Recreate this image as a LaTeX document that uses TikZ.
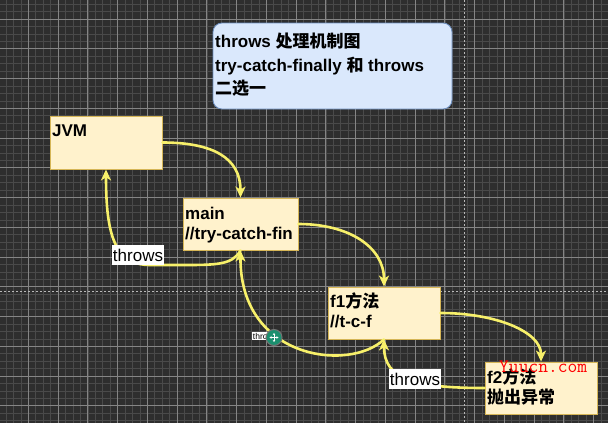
\documentclass[tikz,border=0pt]{standalone}
\usepackage{fontspec}
\setmainfont{Liberation Sans}
\newfontfamily\cjk{Noto Sans CJK SC}
\usetikzlibrary{arrows.meta}
\definecolor{bgc}{HTML}{2E2E2E}
\definecolor{minorc}{HTML}{4A4A4A}
\definecolor{majorc}{HTML}{858585}
\definecolor{dashc}{HTML}{B8B8B8}
\definecolor{boxfill}{HTML}{FFF2CC}
\definecolor{boxline}{HTML}{D6B656}
\definecolor{titlefill}{HTML}{DAE8FC}
\definecolor{titleline}{HTML}{6C8EBF}
\definecolor{arrowc}{HTML}{F7F06A}
\definecolor{iconc}{HTML}{1B8F6E}
\begin{document}
\begin{tikzpicture}[x=1pt,y=-1pt,
  box/.style={draw=boxline, fill=boxfill, line width=0.8pt, inner sep=0pt},
  txt/.style={anchor=base west, inner sep=0pt, font=\fontsize{17}{20}\selectfont\bfseries},
  arr/.style={draw=arrowc, line width=2.6pt, line cap=round,
    -{Stealth[length=11pt,width=10pt,inset=3pt]}},
  lbl/.style={fill=white, inner xsep=0.5pt, inner ysep=0pt, minimum height=20pt,
    font=\fontsize{17}{20}\selectfont}]
\useasboundingbox (0,0) rectangle (608,423);
% background and grid
\fill[bgc] (0,0) rectangle (608,423);
\begin{scope}
\clip (0,0) rectangle (608,423);
\foreach \i in {-4,...,80} {
  \draw[minorc, line width=0.6pt] ({28.3+\i*7.4375},0) -- ++(0,423);
  \draw[minorc, line width=0.6pt] (0,{19+\i*7.4375}) -- ++(608,0);
}
\foreach \i in {-1,...,20} {
  \draw[majorc, line width=0.8pt] ({28.3+\i*29.75},0) -- ++(0,423);
  \draw[majorc, line width=0.8pt] (0,{19+\i*29.75}) -- ++(608,0);
}
\draw[dashc, line width=0.8pt, dash pattern=on 2pt off 2pt] (464.5,0) -- (464.5,423);
\draw[dashc, line width=0.8pt, dash pattern=on 2pt off 2pt] (0,291.5) -- (608,291.5);
\end{scope}

% title
\node[draw=titleline, fill=titlefill, line width=0.8pt, rounded corners=9pt,
  minimum width=239pt, minimum height=86pt, inner sep=0pt] (title) at (332.5,66) {};
\node[txt] (tl1) at (215,47.7) {throws {\cjk 处理机制图}};
\node[txt] (tl2) at (215,71) {try-catch-finally {\cjk 和} throws};
\node[txt] (tl3) at (215,94) {\cjk 二选一};

% boxes
\node[box, minimum width=112pt, minimum height=53pt] (jvm) at (106,142.5) {};
\node[box, minimum width=115pt, minimum height=52pt] (main) at (240.5,224) {};
\node[box, minimum width=112pt, minimum height=52pt] (f1) at (384,313) {};
\node[box, minimum width=112pt, minimum height=52pt] (f2) at (541,388) {};

% connectors
\draw[arr] (jvm.east) .. controls +(50,0) and +(0,-40) .. (main.north);
\draw[arr] (main.east) .. controls +(50,0) and +(0,-40) .. (f1.north);
\draw[arr] (f1.east) .. controls +(55,0) and +(0,-30) .. (f2.north);
\coordinate (w1) at (180,265);
\coordinate (w2) at (150,265);
\draw[arr] (main.south) .. controls +(-8,15) and +(35,0) .. (w1) -- (w2)
  .. controls +(-35,0) and +(0,66) .. (jvm.south);
\draw[arr] (f1.south) .. controls (350,372) and (240,360) .. (main.south);
\draw[arr] (f2.west) .. controls +(-70,0) and +(0,40) .. (f1.south);

% labels
\node[lbl] (th1) at (138,255) {throws};
\node[lbl] (th3) at (415,379) {throws};
\node[fill=white, inner xsep=0.5pt, inner ysep=0.8pt, font=\fontsize{8.5}{9}\selectfont] (th2) at (265.5,336) {throws};
\node[circle, fill=iconc, draw=black!55, line width=1pt, minimum size=16pt, inner sep=0pt] (icon) at (274,337.5) {};
\draw[white, line width=0.9pt, -{Stealth[length=2pt,width=2.5pt]}] (icon.center) -- ++(4.5,0);
\draw[white, line width=0.9pt, -{Stealth[length=2pt,width=2.5pt]}] (icon.center) -- ++(-4.5,0);
\draw[white, line width=0.9pt, -{Stealth[length=2pt,width=2.5pt]}] (icon.center) -- ++(0,4.5);
\draw[white, line width=0.9pt, -{Stealth[length=2pt,width=2.5pt]}] (icon.center) -- ++(0,-4.5);

% box texts
\node[txt] (jvmt) at (52,136) {JVM};
\node[txt] (mt1) at (185,219) {main};
\node[txt] (mt2) at (185,239) {//try-catch-fin};
\node[txt] (f1t1) at (330,307) {f1{\cjk 方法}};
\node[txt] (f1t2) at (330,327) {//t-c-f};
\node[txt] (f2t1) at (487,383) {f2{\cjk 方法}};
\node[txt] (f2t2) at (487,403) {\cjk 抛出异常};
\node[anchor=base west, inner sep=0pt, text=red, font=\fontsize{19}{19}\selectfont\ttfamily] (wm) at (499,372) {Yuucn.com};
\end{tikzpicture}
\end{document}
